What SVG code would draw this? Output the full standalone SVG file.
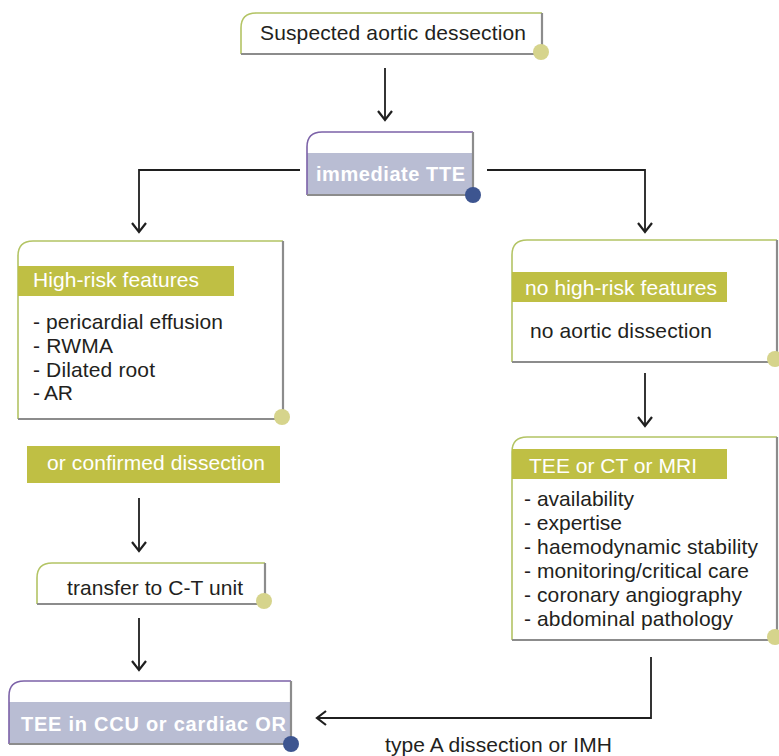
<svg xmlns="http://www.w3.org/2000/svg" width="779" height="756" viewBox="0 0 779 756">
  <style>
    text { font-family: "Liberation Sans", Arial, sans-serif; font-size: 21px; fill: #231f20; }
    .hd { fill: #ffffff; }
    .bold { fill: #ffffff; font-weight: bold; font-size: 20px; }
    .band { fill: #bfbf44; }
    .blue { fill: #b9bdd3; }
    .edge-g { fill: none; stroke: #b3c464; stroke-width: 1.6; }
    .edge-p { fill: none; stroke: #7c62a8; stroke-width: 1.6; }
    .edge-s { fill: none; stroke: #8c8c8c; stroke-width: 2.2; }
    .dot-l { fill: #d6d48c; }
    .dot-d { fill: #3d5590; }
    .conn { fill: none; stroke: #1f1f1f; stroke-width: 1.8; }
  </style>
  <defs>
    <marker id="arr" viewBox="-11 -9 13 18" refX="0" refY="0" markerWidth="13" markerHeight="18" markerUnits="userSpaceOnUse" orient="auto">
      <path d="M-9,-7 L0,0 L-9,7" fill="none" stroke="#1f1f1f" stroke-width="2.2"/>
    </marker>
  </defs>

  <!-- connectors -->
  <g id="connectors">
    <path class="conn" d="M385,68 V120" marker-end="url(#arr)"/>
    <path class="conn" d="M300,170 H139 V232" marker-end="url(#arr)"/>
    <path class="conn" d="M487,170 H645 V232" marker-end="url(#arr)"/>
    <path class="conn" d="M645,373 V426" marker-end="url(#arr)"/>
    <path class="conn" d="M139,498 V551" marker-end="url(#arr)"/>
    <path class="conn" d="M139,618 V670" marker-end="url(#arr)"/>
    <path class="conn" d="M651,657 V718 H317" marker-end="url(#arr)"/>
    <text x="385" y="752" textLength="227" lengthAdjust="spacing">type A dissection or IMH</text>
  </g>

  <!-- start -->
  <g id="suspected">
    <rect x="241" y="13" width="301" height="41" fill="#ffffff"/>
    <path class="edge-g" d="M241,54 V28 Q241,13 256,13 H542"/>
    <path class="edge-s" d="M542,13 V54 H241"/>
    <circle class="dot-l" cx="541" cy="52" r="8"/>
    <text x="260" y="40" textLength="266" lengthAdjust="spacing">Suspected aortic dessection</text>
  </g>

  <g id="tte">
    <path fill="#ffffff" d="M307,195 V147 Q307,132 322,132 H473 V195 Z"/>
    <rect class="blue" x="307" y="153" width="166" height="42"/>
    <path class="edge-p" d="M307,195 V147 Q307,132 322,132 H473"/>
    <path class="edge-s" d="M473,132 V195 H307"/>
    <circle class="dot-d" cx="473" cy="195" r="8"/>
    <text class="bold" x="316" y="181" textLength="149" lengthAdjust="spacing">immediate TTE</text>
  </g>

  <g id="high-risk">
    <path class="edge-g" d="M18,419 V256 Q18,241 33,241 H283"/>
    <path class="edge-s" d="M283,241 V419 H18"/>
    <rect class="band" x="18" y="266" width="216" height="30"/>
    <text class="hd" x="33" y="287" textLength="166" lengthAdjust="spacing">High-risk features</text>
    <text x="33" y="329" textLength="190" lengthAdjust="spacing">- pericardial effusion</text>
    <text x="33" y="353" textLength="80" lengthAdjust="spacing">- RWMA</text>
    <text x="33" y="377" textLength="122" lengthAdjust="spacing">- Dilated root</text>
    <text x="33" y="400" textLength="40" lengthAdjust="spacing">- AR</text>
    <circle class="dot-l" cx="282" cy="417" r="8"/>
  </g>

  <g id="confirmed">
    <rect class="band" x="27" y="446" width="253" height="37"/>
    <text class="hd" x="47" y="470" textLength="218" lengthAdjust="spacing">or confirmed dissection</text>
  </g>

  <g id="transfer">
    <path class="edge-g" d="M37,604 V578 Q37,563 52,563 H265"/>
    <path class="edge-s" d="M265,563 V604 H37"/>
    <circle class="dot-l" cx="264" cy="601" r="8"/>
    <text x="67" y="595" textLength="176" lengthAdjust="spacing">transfer to C-T unit</text>
  </g>

  <g id="tee-ccu">
    <path fill="#ffffff" d="M9,744 V696 Q9,681 24,681 H291 V744 Z"/>
    <rect class="blue" x="9" y="702" width="282" height="42"/>
    <path class="edge-p" d="M9,744 V696 Q9,681 24,681 H291"/>
    <path class="edge-s" d="M291,681 V744 H9"/>
    <circle class="dot-d" cx="291" cy="744" r="8"/>
    <text class="bold" x="21" y="731" textLength="265" lengthAdjust="spacing">TEE in CCU or cardiac OR</text>
  </g>

  <g id="no-high-risk">
    <path class="edge-g" d="M512,362 V255 Q512,240 527,240 H777"/>
    <path class="edge-s" d="M777,240 V362 H512"/>
    <rect class="band" x="512" y="272" width="215" height="30"/>
    <text class="hd" x="525" y="295" textLength="192" lengthAdjust="spacing">no high-risk features</text>
    <text x="530" y="338" textLength="182" lengthAdjust="spacing">no aortic dissection</text>
    <circle class="dot-l" cx="775" cy="359" r="8"/>
  </g>

  <g id="imaging">
    <path class="edge-g" d="M512,640 V452 Q512,437 527,437 H777"/>
    <path class="edge-s" d="M777,437 V640 H512"/>
    <rect class="band" x="512" y="449" width="215" height="30"/>
    <text class="hd" x="529" y="473" textLength="168" lengthAdjust="spacing">TEE or CT or MRI</text>
    <text x="524" y="506" textLength="110" lengthAdjust="spacing">- availability</text>
    <text x="524" y="530" textLength="98" lengthAdjust="spacing">- expertise</text>
    <text x="524" y="554" textLength="234" lengthAdjust="spacing">- haemodynamic stability</text>
    <text x="524" y="578" textLength="225" lengthAdjust="spacing">- monitoring/critical care</text>
    <text x="524" y="602" textLength="218" lengthAdjust="spacing">- coronary angiography</text>
    <text x="524" y="626" textLength="209" lengthAdjust="spacing">- abdominal pathology</text>
    <circle class="dot-l" cx="775" cy="637" r="8"/>
  </g>
</svg>
